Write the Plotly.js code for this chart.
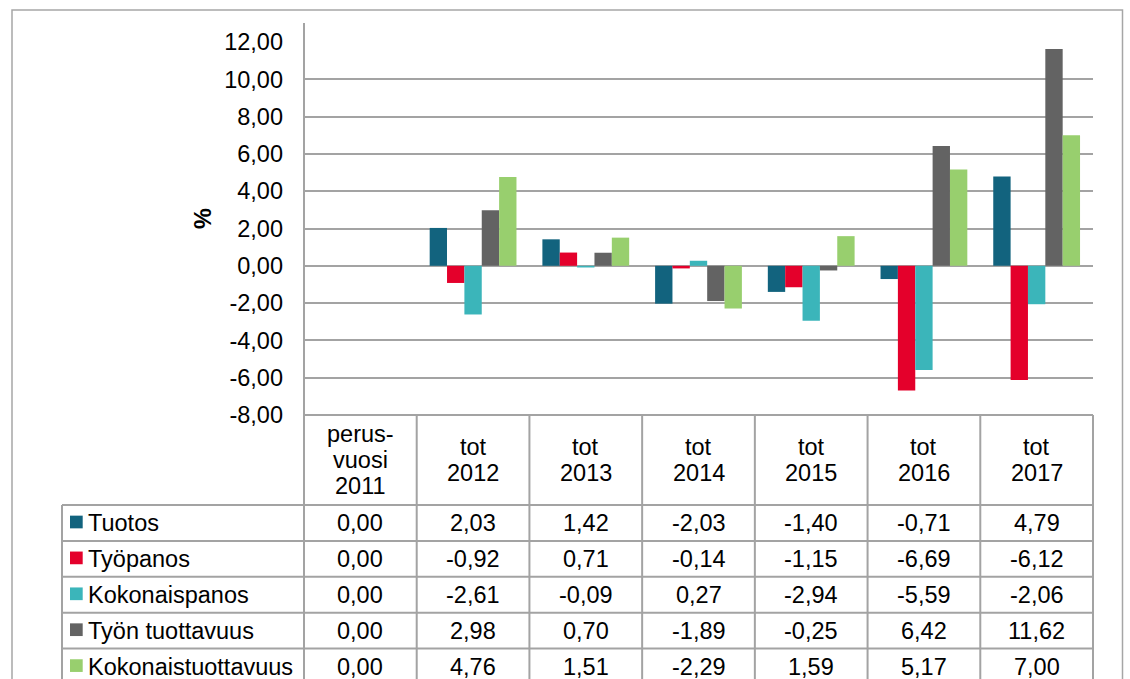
<!DOCTYPE html>
<html>
<head>
<meta charset="utf-8">
<script src="https://cdn.plot.ly/plotly-3.0.1.min.js"></script>
<style>
html,body{margin:0;padding:0;background:#fff;}
#chart{width:1130px;height:679px;}
</style>
</head>
<body>
<div id="chart"></div>
<script>
// ---- data ----
const categories = ['perus-vuosi 2011', 'tot 2012', 'tot 2013', 'tot 2014', 'tot 2015', 'tot 2016', 'tot 2017'];
const headerLabels = [['perus-', 'vuosi', '2011'], ['tot', '2012'], ['tot', '2013'], ['tot', '2014'], ['tot', '2015'], ['tot', '2016'], ['tot', '2017']];
const seriesNames = ['Tuotos', 'Työpanos', 'Kokonaispanos', 'Työn tuottavuus', 'Kokonaistuottavuus'];
const tuotos = [0.00, 2.03, 1.42, -2.03, -1.40, -0.71, 4.79];
const tyopanos = [0.00, -0.92, 0.71, -0.14, -1.15, -6.69, -6.12];
const kokonaispanos = [0.00, -2.61, -0.09, 0.27, -2.94, -5.59, -2.06];
const tyonTuottavuus = [0.00, 2.98, 0.70, -1.89, -0.25, 6.42, 11.62];
const kokonaistuottavuus = [0.00, 4.76, 1.51, -2.29, 1.59, 5.17, 7.00];
const seriesColors = ['#12637e', '#e4002b', '#3bb5ba', '#636363', '#98cf6e'];
const yTickVals = [-8, -6, -4, -2, 0, 2, 4, 6, 8, 10, 12];
const yTitle = '%';

// ---- helpers ----
const allSeries = [tuotos, tyopanos, kokonaispanos, tyonTuottavuus, kokonaistuottavuus];
const fmt = v => v.toFixed(2).replace('.', ',');
const W = 1130, H = 679;
const M = {l: 304, r: 37, t: 42, b: 264};
const plotW = W - M.l - M.r, plotH = H - M.t - M.b;
const px2p = px => (px - M.l) / plotW;
const py2p = py => (H - M.b - py) / plotH;

const FONT = 'Liberation Sans, Arial, sans-serif';
const FS = 23.5;
const lineCol = '#a3a3a3';

const traces = allSeries.map((vals, i) => ({
  type: 'bar',
  name: seriesNames[i],
  x: categories,
  y: vals,
  marker: {color: seriesColors[i], line: {width: 0}},
  hoverinfo: 'skip'
}));

// table geometry (pixels)
const tableLeft = 62;
const headerTop = 415, headerBottom = 505;
const rowH = 35.9;
const bottomPx = 700;

const shapes = [];
const annotations = [];

// outer chart border
shapes.push({type: 'rect', xref: 'paper', yref: 'paper',
  x0: px2p(12), x1: px2p(1122.5), y0: py2p(10), y1: py2p(bottomPx),
  line: {color: '#a6a6a6', width: 1.5}, fillcolor: 'rgba(0,0,0,0)'});

// value axis line
shapes.push({type: 'line', xref: 'paper', yref: 'paper',
  x0: 0, x1: 0, y0: py2p(23), y1: py2p(bottomPx), line: {color: lineCol, width: 2}});

// header top line (category axis)
shapes.push({type: 'line', xref: 'paper', yref: 'paper',
  x0: 0, x1: 1, y0: py2p(headerTop), y1: py2p(headerTop), line: {color: lineCol, width: 2}});

// row lines
for (let r = 0; r < seriesNames.length; r++) {
  const y = headerBottom + r * rowH;
  shapes.push({type: 'line', xref: 'paper', yref: 'paper',
    x0: px2p(tableLeft), x1: 1, y0: py2p(y), y1: py2p(y), line: {color: lineCol, width: 2}});
}
// vertical lines
shapes.push({type: 'line', xref: 'paper', yref: 'paper',
  x0: px2p(tableLeft), x1: px2p(tableLeft), y0: py2p(headerBottom), y1: py2p(bottomPx), line: {color: lineCol, width: 2}});
for (let i = 1; i <= categories.length; i++) {
  const x = i / categories.length;
  shapes.push({type: 'line', xref: 'paper', yref: 'paper',
    x0: x, x1: x, y0: py2p(headerTop), y1: py2p(bottomPx), line: {color: lineCol, width: 2}});
}

// header labels
const headerMid = (headerTop + headerBottom) / 2;
const lineGap = 26;
headerLabels.forEach((lines, i) => {
  lines.forEach((t, k) => {
    annotations.push({xref: 'x', yref: 'paper', x: i,
      y: py2p(headerMid + (k - (lines.length - 1) / 2) * lineGap),
      text: t, showarrow: false, xanchor: 'center', yanchor: 'middle',
      font: {family: FONT, size: FS, color: '#000'}});
  });
});

// rows
allSeries.forEach((vals, r) => {
  const cy = headerBottom + r * rowH + rowH / 2;
  shapes.push({type: 'rect', xref: 'paper', yref: 'paper',
    x0: px2p(70), x1: px2p(82.7), y0: py2p(cy - 7.3), y1: py2p(cy + 5.4),
    line: {width: 0}, fillcolor: seriesColors[r]});
  annotations.push({xref: 'paper', yref: 'paper', x: px2p(86), y: py2p(cy),
    text: seriesNames[r], showarrow: false, xanchor: 'left', yanchor: 'middle',
    font: {family: FONT, size: FS, color: '#000'}});
  vals.forEach((v, i) => {
    annotations.push({xref: 'x', yref: 'paper', x: i, y: py2p(cy),
      text: fmt(v), showarrow: false, xanchor: 'center', yanchor: 'middle',
      font: {family: FONT, size: FS, color: '#000'}});
  });
});

// y title
annotations.push({xref: 'paper', yref: 'paper', x: px2p(203), y: py2p(219),
  text: '<b>' + yTitle + '</b>', showarrow: false, textangle: -90,
  xanchor: 'center', yanchor: 'middle',
  font: {family: FONT, size: FS, color: '#000'}});

const layout = {
  width: W, height: H,
  margin: {l: M.l, r: M.r, t: M.t, b: M.b, pad: 0},
  paper_bgcolor: '#fff', plot_bgcolor: '#fff',
  showlegend: false,
  barmode: 'group', bargap: 0.23, bargroupgap: 0,
  font: {family: FONT, size: FS, color: '#000'},
  xaxis: {type: 'category', range: [-0.5, categories.length - 0.5], showticklabels: false,
    showgrid: false, zeroline: false, showline: false, ticks: '', fixedrange: true},
  yaxis: {range: [-8, 12], tickvals: yTickVals, ticktext: yTickVals.map(fmt),
    showgrid: true, gridcolor: lineCol, gridwidth: 2,
    zeroline: true, zerolinecolor: lineCol, zerolinewidth: 2,
    showline: false, ticks: '', ticklabelstandoff: 20,
    tickfont: {family: FONT, size: FS, color: '#000'}, fixedrange: true},
  shapes: shapes,
  annotations: annotations
};

Plotly.newPlot('chart', traces, layout, {staticPlot: true, displayModeBar: false});
</script>
</body>
</html>
